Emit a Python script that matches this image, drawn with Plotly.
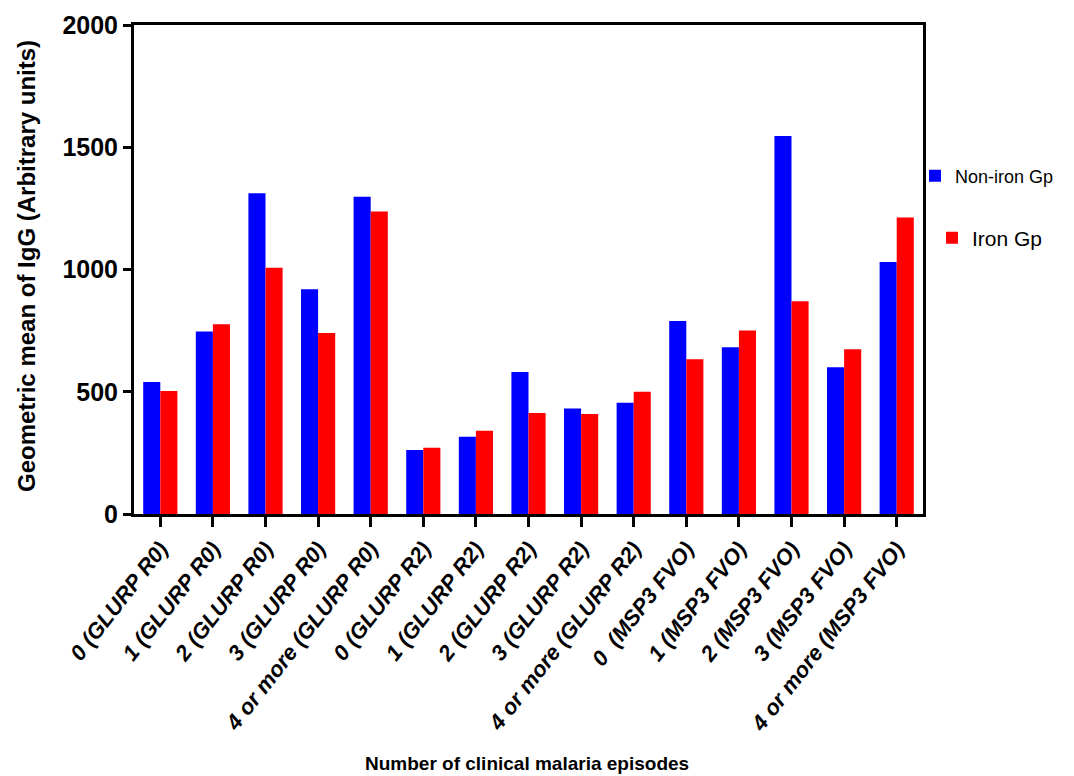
import plotly.graph_objects as go

categories = [
    "0 (GLURP R0)", "1 (GLURP R0)", "2 (GLURP R0)", "3 (GLURP R0)", "4 or more (GLURP R0)",
    "0 (GLURP R2)", "1 (GLURP R2)", "2 (GLURP R2)", "3 (GLURP R2)", "4 or more (GLURP R2)",
    "0 \u00a0(MSP3 FVO)", "1 (MSP3 FVO)", "2 (MSP3 FVO)", "3 (MSP3 FVO)", "4 or more (MSP3 FVO)",
]
non_iron = [540, 746, 1312, 919, 1298, 262, 316, 581, 432, 455, 789, 682, 1546, 600, 1031]
iron = [503, 776, 1007, 740, 1237, 271, 341, 413, 409, 500, 633, 751, 870, 674, 1213]
y_ticks = [0, 500, 1000, 1500, 2000]

SANS = "Liberation Sans, Arial, Helvetica, sans-serif"

# page has an 8px body margin; work in page pixels and convert
OFF = 8
W, H = 1074 - OFF, 776 - OFF
L, R, T, B = 134, 923, 25, 514          # plot area in page pixels
PW, PH = R - L, B - T


def px_x(x):
    return (x - L) / PW


def px_y(y):
    return (B - y) / PH


fig = go.Figure()
fig.add_trace(go.Bar(x=categories, y=non_iron, name="Non-iron Gp",
                     marker=dict(color="#0000FF", line=dict(width=0)), legend="legend"))
fig.add_trace(go.Bar(x=categories, y=iron, name="Iron Gp",
                     marker=dict(color="#FF0000", line=dict(width=0)), legend="legend2"))

fig.update_layout(
    width=W, height=H,
    margin=dict(l=L - OFF, r=W - (R - OFF), t=T - OFF, b=H - (B - OFF)),
    plot_bgcolor="white", paper_bgcolor="white",
    barmode="group", bargap=0.35, bargroupgap=0,
    showlegend=True,
    legend=dict(x=px_x(915), y=px_y(176), xanchor="left", yanchor="middle",
                font=dict(family=SANS, size=18, color="black"),
                bgcolor="rgba(0,0,0,0)"),
    legend2=dict(x=px_x(932), y=px_y(238), xanchor="left", yanchor="middle",
                 font=dict(family=SANS, size=21, color="black"),
                 bgcolor="rgba(0,0,0,0)"),
    xaxis=dict(
        automargin=False,
        tickangle=-52,
        tickfont=dict(family=SANS, size=22, color="black", weight="bold", style="italic"),
        showline=True, linecolor="black", linewidth=3, mirror=True,
        ticks="outside", ticklen=10, tickwidth=3, tickcolor="black",
        range=[-0.5, 14.5],
    ),
    yaxis=dict(
        automargin=False,
        range=[0, 2000], tickvals=y_ticks,
        tickfont=dict(family=SANS, size=25, color="black", weight="bold"),
        showline=True, linecolor="black", linewidth=3, mirror=True,
        ticks="outside", ticklen=8, tickwidth=3, tickcolor="black",
        showgrid=False, zeroline=False,
    ),
    annotations=[
        dict(text="Number of clinical malaria episodes", xref="paper", yref="paper",
             x=px_x(527), y=px_y(763), xanchor="center", yanchor="middle",
             showarrow=False, font=dict(family=SANS, size=19, color="black", weight="bold")),
        dict(text="Geometric mean of IgG (Arbitrary units)", xref="paper", yref="paper",
             x=px_x(26), y=px_y(266), xanchor="center", yanchor="middle", textangle=-90,
             showarrow=False, font=dict(family=SANS, size=24, color="black", weight="bold")),
    ],
)

fig.write_html("out.html")
